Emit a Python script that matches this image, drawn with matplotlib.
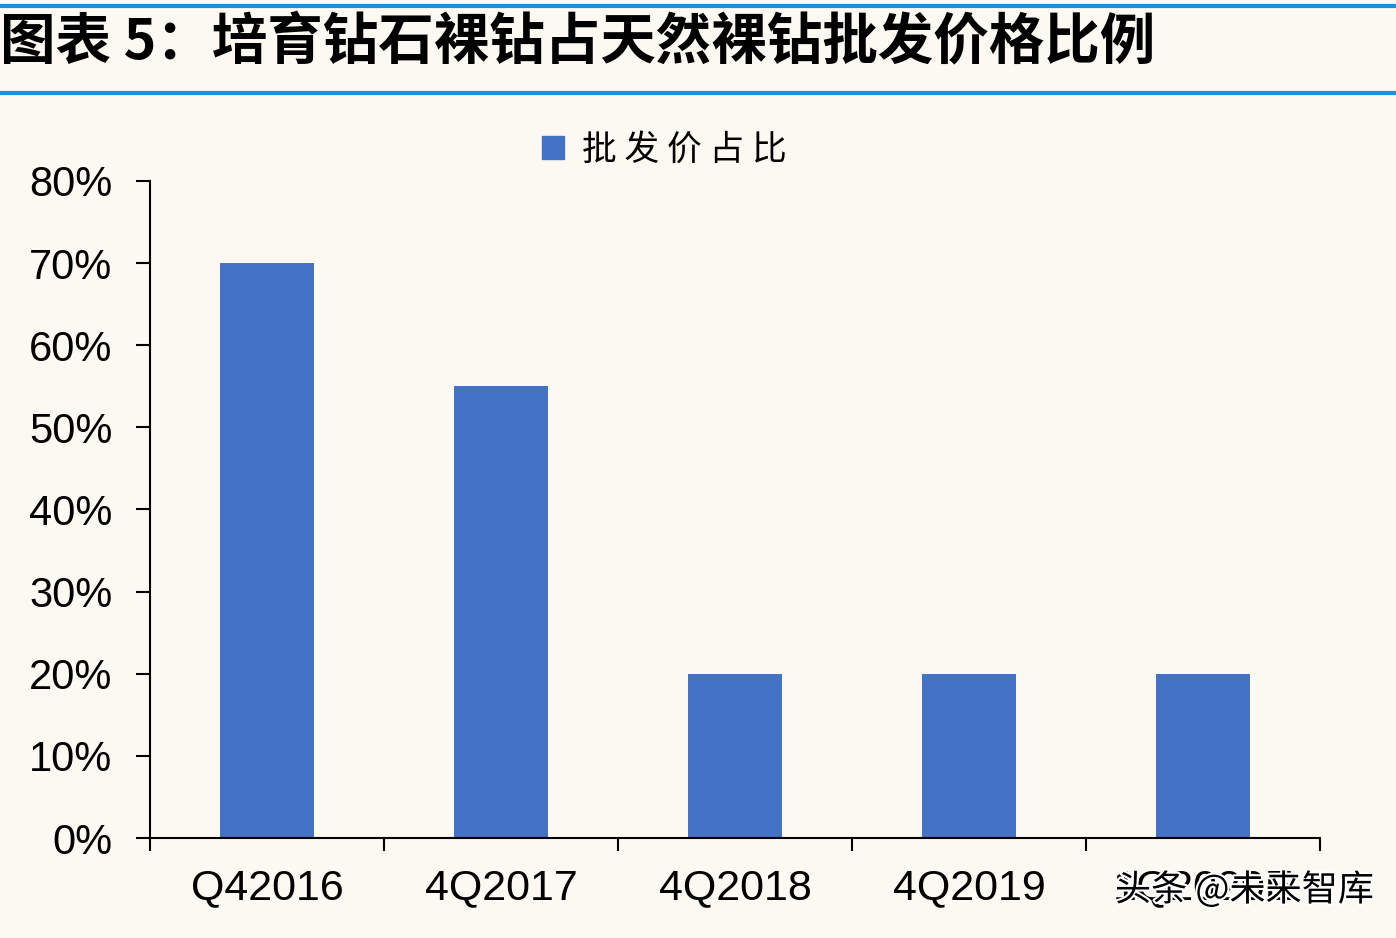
import matplotlib.pyplot as plt
import matplotlib.patheffects as pe
from matplotlib.lines import Line2D
from matplotlib.patches import Patch

plt.rcParams["font.family"] = ["Liberation Sans", "Noto Sans CJK SC", "DejaVu Sans"]

title = "图表 5：培育钻石裸钻占天然裸钻批发价格比例"
series_name = "批发价占比"
periods = ["Q42016", "4Q2017", "4Q2018", "4Q2019", "1Q2020E"]
ratio = [70, 55, 20, 20, 20]
y_ticks = [0, 10, 20, 30, 40, 50, 60, 70, 80]

bg = "#fcf9f3"
bar_color = "#4472c4"
line_blue = "#1f8fd8"

fig = plt.figure(figsize=(13.96, 9.38), dpi=100, facecolor=bg)

# title strip with blue rules
fig.add_artist(Line2D([0, 1], [1 - 6 / 938, 1 - 6 / 938], color=line_blue, lw=3))
fig.add_artist(Line2D([0, 1], [1 - 93 / 938, 1 - 93 / 938], color=line_blue, lw=3))
fig.text(0.0, 1 - 42 / 938, title, fontsize=40, fontweight="bold",
         family=["Noto Sans CJK SC", "DejaVu Sans"], ha="left", va="center")

ax = fig.add_axes([150 / 1396, 1 - 838 / 938, 1170 / 1396, 657 / 938])
ax.set_facecolor(bg)
x = list(range(len(periods)))
ax.bar(x, ratio, width=0.4, color=bar_color, label=series_name, zorder=2)

ax.set_xlim(-0.5, len(periods) - 0.5)
ax.set_ylim(0, 80)
ax.set_yticks(y_ticks)
ax.set_yticklabels([f"{v}%" for v in y_ticks])
ax.set_xticks([i - 0.5 for i in range(len(periods) + 1)])
ax.set_xticklabels([])
ax.set_xticks(x, minor=True)
ax.set_xticklabels(periods, minor=True)

for s in ["top", "right"]:
    ax.spines[s].set_visible(False)
ax.spines["left"].set_linewidth(1.5)
ax.spines["bottom"].set_linewidth(1.5)
ax.tick_params(axis="y", direction="out", length=10, width=1.5, labelsize=30, pad=17)
ax.tick_params(axis="x", which="major", direction="out", length=9, width=1.5)
ax.tick_params(axis="x", which="minor", length=0, labelsize=31, pad=22)

handles = [Patch(color=bar_color)]
fig.legend(handles, [" ".join(series_name)], loc="center", bbox_to_anchor=(664 / 1396, 1 - 150 / 938),
           frameon=False, handlelength=0.65, handleheight=0.65, handletextpad=0.5,
           prop={"family": ["Noto Sans CJK SC"], "size": 25})

# watermark
fig.text(1115 / 1396, 1 - 890 / 938, "头条 @未来智库", fontsize=26,
         family=["Noto Sans CJK SC", "DejaVu Sans"], ha="left", va="center", color="black",
         path_effects=[pe.withStroke(linewidth=3, foreground="white")])

fig.savefig("out.png", dpi=100, facecolor=bg)
